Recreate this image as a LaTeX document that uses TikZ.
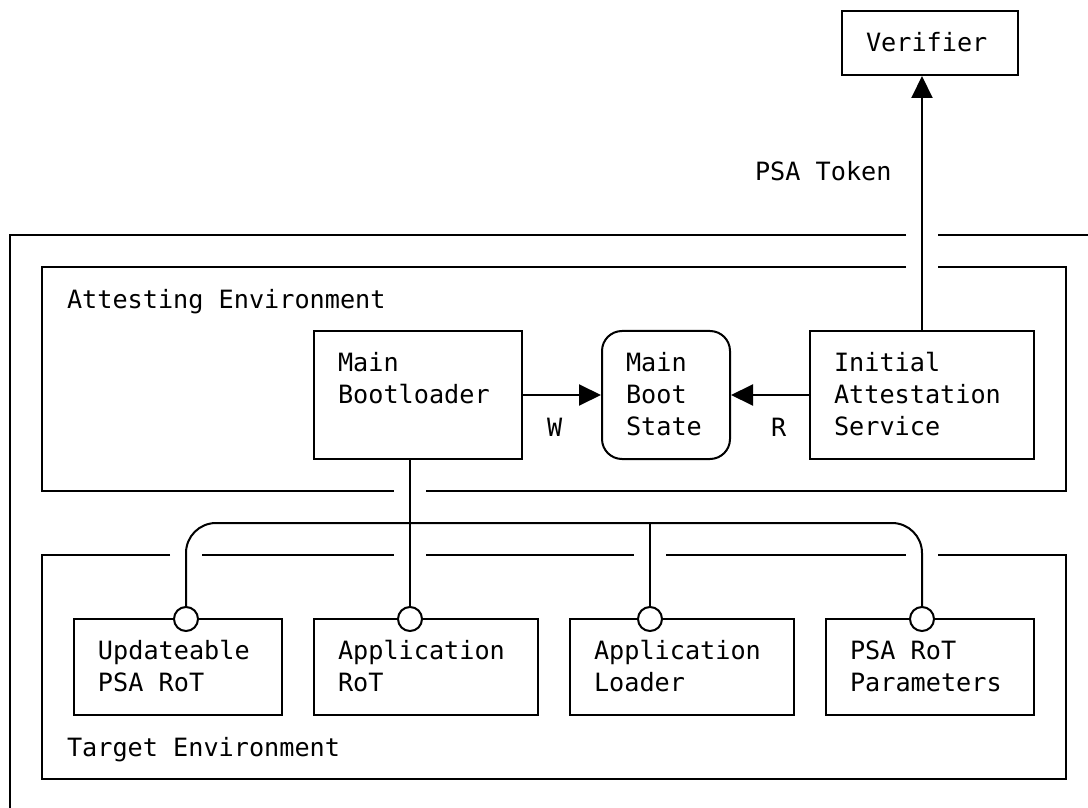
\documentclass[tikz,border=0pt]{standalone}
\usepackage{fontspec}
\usetikzlibrary{arrows.meta}
\newfontfamily\codefont{DejaVu Sans Mono}

\begin{document}
\begin{tikzpicture}[x=8pt, y=-16pt, line width=1pt, >={Triangle[length=11pt, width=10.5pt]}]
	\tikzstyle{boxStyle}=[draw, shape=rectangle, inner sep=0pt]
	\tikzstyle{stateStyle}=[draw, shape=rectangle, rounded corners=10pt, inner sep=0pt]
	\tikzstyle{portStyle}=[draw, shape=circle, fill=white, minimum size=12pt, inner sep=0pt]
	\tikzstyle{textStyle}=[anchor=north west, inner sep=0pt, align=left, font=\codefont\fontsize{12.6}{16}\selectfont]
	\useasboundingbox (-0.625,-0.34375) rectangle (67.375,24.90625);
	\clip (-0.625,-0.34375) rectangle (67.375,24.90625);
	% frames
	\draw (56,7) -- (0,7) -- (0,26);
	\draw (58,7) -- (70,7);
	\draw (56,8) -- (2,8) -- (2,15) -- (24,15);
	\draw (26,15) -- (66,15) -- (66,8) -- (58,8);
	\draw (10,17) -- (2,17) -- (2,24) -- (66,24) -- (66,17) -- (58,17);
	\draw (12,17) -- (24,17);
	\draw (26,17) -- (39,17);
	\draw (41,17) -- (56,17);
	\node[textStyle] (attT) at (3.5,8.58) {\strut Attesting Environment};
	\node[textStyle] (tgtT) at (3.5,22.58) {\strut Target Environment};
	% boxes
	\node[boxStyle, minimum width=88pt, minimum height=32pt] (ver) at (57.5,1) {};
	\node[boxStyle, minimum width=104pt, minimum height=64pt] (mb) at (25.5,12) {};
	\node[stateStyle, minimum width=64pt, minimum height=64pt] (mbs) at (41,12) {};
	\node[boxStyle, minimum width=112pt, minimum height=64pt] (ias) at (57,12) {};
	\node[boxStyle, minimum width=104pt, minimum height=48pt] (upd) at (10.5,20.5) {};
	\node[boxStyle, minimum width=112pt, minimum height=48pt] (appRot) at (26,20.5) {};
	\node[boxStyle, minimum width=112pt, minimum height=48pt] (appLdr) at (42,20.5) {};
	\node[boxStyle, minimum width=104pt, minimum height=48pt] (rotPar) at (57.5,20.5) {};
	\node[textStyle] (verT) at ([shift={(1.5,0.58)}]ver.north west) {\strut Verifier};
	\node[textStyle] (mbT) at ([shift={(1.5,0.58)}]mb.north west) {\strut Main\\\strut Bootloader};
	\node[textStyle] (mbsT) at ([shift={(1.5,0.58)}]mbs.north west) {\strut Main\\\strut Boot\\\strut State};
	\node[textStyle] (iasT) at ([shift={(1.5,0.58)}]ias.north west) {\strut Initial\\\strut Attestation\\\strut Service};
	\node[textStyle] (updT) at ([shift={(1.5,0.58)}]upd.north west) {\strut Updateable\\\strut PSA RoT};
	\node[textStyle] (appRotT) at ([shift={(1.5,0.58)}]appRot.north west) {\strut Application\\\strut RoT};
	\node[textStyle] (appLdrT) at ([shift={(1.5,0.58)}]appLdr.north west) {\strut Application\\\strut Loader};
	\node[textStyle] (rotParT) at ([shift={(1.5,0.58)}]rotPar.north west) {\strut PSA RoT\\\strut Parameters};
	% ports
	\coordinate (bus) at (0,16);
	\node[portStyle] (p1) at (11,19) {};
	\node[portStyle] (p2) at (25,19) {};
	\node[portStyle] (p3) at (40,19) {};
	\node[portStyle] (p4) at (57,19) {};
	% connectors
	\draw[->] (mb) -- (mbs);
	\draw[->] (ias) -- (mbs);
	\draw[->] (ias.north) -- (ias.north |- ver.south);
	\node[textStyle] (wT) at (33.5,12.58) {\strut W};
	\node[textStyle] (rT) at (47.5,12.58) {\strut R};
	\node[textStyle] (tokT) at (46.5,4.58) {\strut PSA Token};
	\draw[rounded corners=15pt] (p1.north) |- (bus -| p4) -- (p4.north);
	\draw (mb.south -| p2) -- (p2.north);
	\draw (p3.north) -- (p3 |- bus);
\end{tikzpicture}
\end{document}
